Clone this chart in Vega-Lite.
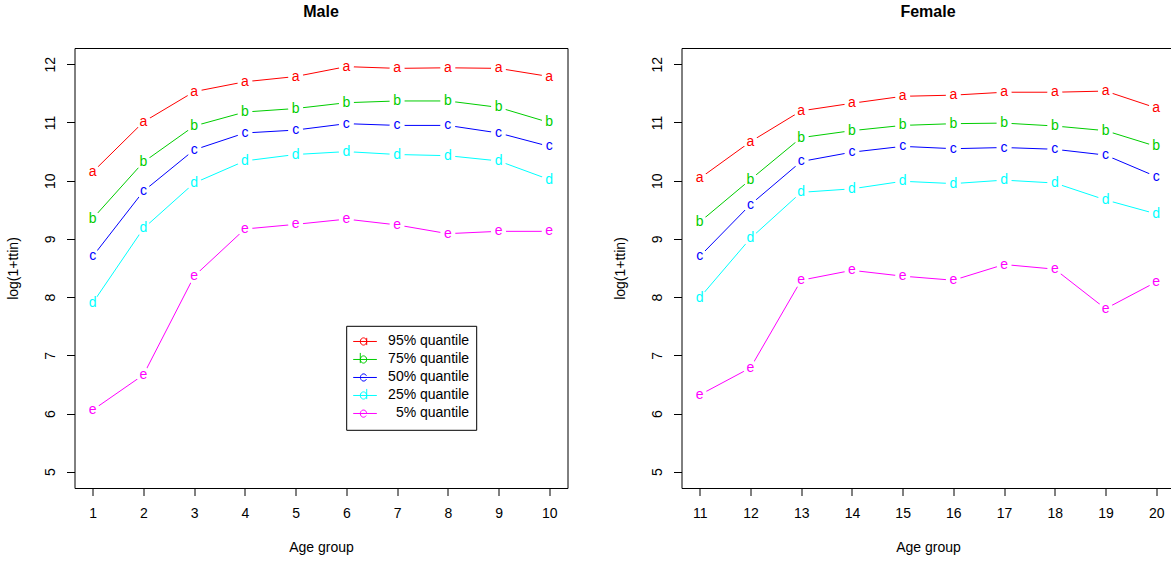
{
  "$schema": "https://vega.github.io/schema/vega-lite/v6.json",
  "autosize": {"type": "pad"},
  "padding": {"left": 5.5, "top": 3, "right": 0, "bottom": 0},
  "background": "white",
  "bounds": "flush",
  "spacing": 114,
  "config": {
    "font": "Liberation Sans",
    "view": {"stroke": "#000000", "strokeWidth": 1},
    "axis": {"grid": false, "domain": false, "tickColor": "#000000", "tickWidth": 1, "labelColor": "#000000", "titleColor": "#000000", "labelFontSize": 14, "titleFontSize": 14, "titleFontWeight": "normal", "labelFont": "Liberation Sans", "titleFont": "Liberation Sans", "labelFlush": false, "labelOverlap": false},
    "title": {"fontSize": 16, "fontWeight": "bold", "font": "Liberation Sans", "color": "#000000", "anchor": "middle", "frame": "group", "baseline": "alphabetic", "offset": 27.7}
  },
  "datasets": {
    "male": [
      {"age": 1, "q": "95% quantile", "l": "a", "v": 10.15},
      {"age": 2, "q": "95% quantile", "l": "a", "v": 11.01},
      {"age": 3, "q": "95% quantile", "l": "a", "v": 11.53},
      {"age": 4, "q": "95% quantile", "l": "a", "v": 11.70},
      {"age": 5, "q": "95% quantile", "l": "a", "v": 11.79},
      {"age": 6, "q": "95% quantile", "l": "a", "v": 11.96},
      {"age": 7, "q": "95% quantile", "l": "a", "v": 11.93},
      {"age": 8, "q": "95% quantile", "l": "a", "v": 11.94},
      {"age": 9, "q": "95% quantile", "l": "a", "v": 11.93},
      {"age": 10, "q": "95% quantile", "l": "a", "v": 11.79},
      {"age": 1, "q": "75% quantile", "l": "b", "v": 9.35},
      {"age": 2, "q": "75% quantile", "l": "b", "v": 10.32},
      {"age": 3, "q": "75% quantile", "l": "b", "v": 10.94},
      {"age": 4, "q": "75% quantile", "l": "b", "v": 11.18},
      {"age": 5, "q": "75% quantile", "l": "b", "v": 11.24},
      {"age": 6, "q": "75% quantile", "l": "b", "v": 11.34},
      {"age": 7, "q": "75% quantile", "l": "b", "v": 11.37},
      {"age": 8, "q": "75% quantile", "l": "b", "v": 11.37},
      {"age": 9, "q": "75% quantile", "l": "b", "v": 11.26},
      {"age": 10, "q": "75% quantile", "l": "b", "v": 11.00},
      {"age": 1, "q": "50% quantile", "l": "c", "v": 8.70},
      {"age": 2, "q": "50% quantile", "l": "c", "v": 9.82},
      {"age": 3, "q": "50% quantile", "l": "c", "v": 10.53},
      {"age": 4, "q": "50% quantile", "l": "c", "v": 10.82},
      {"age": 5, "q": "50% quantile", "l": "c", "v": 10.87},
      {"age": 6, "q": "50% quantile", "l": "c", "v": 10.98},
      {"age": 7, "q": "50% quantile", "l": "c", "v": 10.95},
      {"age": 8, "q": "50% quantile", "l": "c", "v": 10.95},
      {"age": 9, "q": "50% quantile", "l": "c", "v": 10.82},
      {"age": 10, "q": "50% quantile", "l": "c", "v": 10.59},
      {"age": 1, "q": "25% quantile", "l": "d", "v": 7.90},
      {"age": 2, "q": "25% quantile", "l": "d", "v": 9.18},
      {"age": 3, "q": "25% quantile", "l": "d", "v": 9.96},
      {"age": 4, "q": "25% quantile", "l": "d", "v": 10.34},
      {"age": 5, "q": "25% quantile", "l": "d", "v": 10.45},
      {"age": 6, "q": "25% quantile", "l": "d", "v": 10.50},
      {"age": 7, "q": "25% quantile", "l": "d", "v": 10.45},
      {"age": 8, "q": "25% quantile", "l": "d", "v": 10.43},
      {"age": 9, "q": "25% quantile", "l": "d", "v": 10.34},
      {"age": 10, "q": "25% quantile", "l": "d", "v": 10.02},
      {"age": 1, "q": "\u200c\u00a0\u00a05% quantile", "l": "e", "v": 6.06},
      {"age": 2, "q": "\u200c\u00a0\u00a05% quantile", "l": "e", "v": 6.665},
      {"age": 3, "q": "\u200c\u00a0\u00a05% quantile", "l": "e", "v": 8.36},
      {"age": 4, "q": "\u200c\u00a0\u00a05% quantile", "l": "e", "v": 9.17},
      {"age": 5, "q": "\u200c\u00a0\u00a05% quantile", "l": "e", "v": 9.25},
      {"age": 6, "q": "\u200c\u00a0\u00a05% quantile", "l": "e", "v": 9.34},
      {"age": 7, "q": "\u200c\u00a0\u00a05% quantile", "l": "e", "v": 9.24},
      {"age": 8, "q": "\u200c\u00a0\u00a05% quantile", "l": "e", "v": 9.09},
      {"age": 9, "q": "\u200c\u00a0\u00a05% quantile", "l": "e", "v": 9.13},
      {"age": 10, "q": "\u200c\u00a0\u00a05% quantile", "l": "e", "v": 9.13}
    ],
    "female": [
      {"age": 11, "q": "95% quantile", "l": "a", "v": 10.04},
      {"age": 12, "q": "95% quantile", "l": "a", "v": 10.67},
      {"age": 13, "q": "95% quantile", "l": "a", "v": 11.20},
      {"age": 14, "q": "95% quantile", "l": "a", "v": 11.33},
      {"age": 15, "q": "95% quantile", "l": "a", "v": 11.45},
      {"age": 16, "q": "95% quantile", "l": "a", "v": 11.47},
      {"age": 17, "q": "95% quantile", "l": "a", "v": 11.52},
      {"age": 18, "q": "95% quantile", "l": "a", "v": 11.52},
      {"age": 19, "q": "95% quantile", "l": "a", "v": 11.54},
      {"age": 20, "q": "95% quantile", "l": "a", "v": 11.25},
      {"age": 11, "q": "75% quantile", "l": "b", "v": 9.29},
      {"age": 12, "q": "75% quantile", "l": "b", "v": 10.02},
      {"age": 13, "q": "75% quantile", "l": "b", "v": 10.74},
      {"age": 14, "q": "75% quantile", "l": "b", "v": 10.86},
      {"age": 15, "q": "75% quantile", "l": "b", "v": 10.95},
      {"age": 16, "q": "75% quantile", "l": "b", "v": 10.98},
      {"age": 17, "q": "75% quantile", "l": "b", "v": 10.99},
      {"age": 18, "q": "75% quantile", "l": "b", "v": 10.94},
      {"age": 19, "q": "75% quantile", "l": "b", "v": 10.86},
      {"age": 20, "q": "75% quantile", "l": "b", "v": 10.59},
      {"age": 11, "q": "50% quantile", "l": "c", "v": 8.70},
      {"age": 12, "q": "50% quantile", "l": "c", "v": 9.59},
      {"age": 13, "q": "50% quantile", "l": "c", "v": 10.33},
      {"age": 14, "q": "50% quantile", "l": "c", "v": 10.49},
      {"age": 15, "q": "50% quantile", "l": "c", "v": 10.59},
      {"age": 16, "q": "50% quantile", "l": "c", "v": 10.55},
      {"age": 17, "q": "50% quantile", "l": "c", "v": 10.57},
      {"age": 18, "q": "50% quantile", "l": "c", "v": 10.54},
      {"age": 19, "q": "50% quantile", "l": "c", "v": 10.44},
      {"age": 20, "q": "50% quantile", "l": "c", "v": 10.07},
      {"age": 11, "q": "25% quantile", "l": "d", "v": 7.99},
      {"age": 12, "q": "25% quantile", "l": "d", "v": 9.01},
      {"age": 13, "q": "25% quantile", "l": "d", "v": 9.80},
      {"age": 14, "q": "25% quantile", "l": "d", "v": 9.86},
      {"age": 15, "q": "25% quantile", "l": "d", "v": 9.99},
      {"age": 16, "q": "25% quantile", "l": "d", "v": 9.95},
      {"age": 17, "q": "25% quantile", "l": "d", "v": 10.01},
      {"age": 18, "q": "25% quantile", "l": "d", "v": 9.96},
      {"age": 19, "q": "25% quantile", "l": "d", "v": 9.67},
      {"age": 20, "q": "25% quantile", "l": "d", "v": 9.43},
      {"age": 11, "q": "\u200c\u00a0\u00a05% quantile", "l": "e", "v": 6.32},
      {"age": 12, "q": "\u200c\u00a0\u00a05% quantile", "l": "e", "v": 6.785},
      {"age": 13, "q": "\u200c\u00a0\u00a05% quantile", "l": "e", "v": 8.29},
      {"age": 14, "q": "\u200c\u00a0\u00a05% quantile", "l": "e", "v": 8.46},
      {"age": 15, "q": "\u200c\u00a0\u00a05% quantile", "l": "e", "v": 8.36},
      {"age": 16, "q": "\u200c\u00a0\u00a05% quantile", "l": "e", "v": 8.29},
      {"age": 17, "q": "\u200c\u00a0\u00a05% quantile", "l": "e", "v": 8.56},
      {"age": 18, "q": "\u200c\u00a0\u00a05% quantile", "l": "e", "v": 8.48},
      {"age": 19, "q": "\u200c\u00a0\u00a05% quantile", "l": "e", "v": 7.80},
      {"age": 20, "q": "\u200c\u00a0\u00a05% quantile", "l": "e", "v": 8.26}
    ]
  },
  "hconcat": [
    {
      "title": "Male",
      "width": 493,
      "height": 440,
      "data": {"name": "male"},
      "encoding": {
        "x": {"field": "age", "type": "quantitative", "scale": {"domain": [0.64, 10.36], "nice": false, "zero": false},
          "axis": {"values": [1, 2, 3, 4, 5, 6, 7, 8, 9, 10], "title": "Age group", "tickSize": 7.5, "labelPadding": 10.5, "titlePadding": 20.5}},
        "y": {"field": "v", "type": "quantitative", "scale": {"domain": [4.72, 12.28], "nice": false, "zero": false},
          "axis": {"values": [5, 6, 7, 8, 9, 10, 11, 12], "title": "log(1+ttin)", "tickSize": 8, "labelAngle": 270, "labelAlign": "center", "labelBaseline": "alphabetic", "labelPadding": 12, "titlePadding": 23}}
      },
      "layer": [
        {
          "mark": {"type": "line", "strokeWidth": 1},
          "encoding": {
            "color": {"field": "q", "type": "nominal",
              "scale": {"domain": ["95% quantile", "75% quantile", "50% quantile", "25% quantile", "\u200c\u00a0\u00a05% quantile"], "range": ["#FF0000", "#00CD00", "#0000FF", "#00FFFF", "#FF00FF"]},
              "legend": {"title": null, "orient": "none", "legendX": 271.7, "legendY": 277.8, "strokeColor": "#000000", "padding": 7, "symbolOffset": -3.7, "symbolSize": 713, "symbolStrokeWidth": 1, "symbolOpacity": 1, "symbolFillColor": "transparent", "labelOffset": 10.6, "rowPadding": 0, "clipHeight": 17.35, "labelFontSize": 14, "labelFont": "Liberation Sans", "labelColor": "#000000", "fillColor": "white",
                "encode": {"symbols": {"update": {"fill": {"value": "transparent"}, "fillOpacity": {"value": 0}, "strokeWidth": {"value": 1}}}}}},
            "detail": {"field": "q"}
          }
        },
        {
          "mark": {"type": "point", "filled": true, "color": "white", "opacity": 1, "size": 230, "shape": "circle"}
        },
        {
          "mark": {"type": "text", "fontSize": 14, "font": "Liberation Sans", "baseline": "middle", "align": "center"},
          "encoding": {
            "text": {"field": "l"},
            "fill": {"field": "q", "type": "nominal",
              "scale": {"domain": ["95% quantile", "75% quantile", "50% quantile", "25% quantile", "\u200c\u00a0\u00a05% quantile"], "range": ["#FF0000", "#00CD00", "#0000FF", "#00FFFF", "#FF00FF"]},
              "legend": null}
          }
        },
        {
          "mark": {"type": "point", "opacity": 0, "strokeWidth": 1, "filled": false},
          "encoding": {
            "color": {"field": "q", "type": "nominal"},
            "shape": {"field": "q", "type": "nominal",
              "scale": {"domain": ["95% quantile", "75% quantile", "50% quantile", "25% quantile", "\u200c\u00a0\u00a05% quantile"],
                "range": [
                  "M-1,0H1M0.24,0A0.24,0.27 0 1 1 -0.24,0A0.24,0.27 0 1 1 0.24,0M0.24,-0.27V0.27",
                  "M-1,0H1M0.24,0A0.24,0.27 0 1 1 -0.24,0A0.24,0.27 0 1 1 0.24,0M-0.24,-0.49V0.27",
                  "M-1,0H1M0.22,-0.13A0.24,0.27 0 1 0 0.22,0.13",
                  "M-1,0H1M0.24,0A0.24,0.27 0 1 1 -0.24,0A0.24,0.27 0 1 1 0.24,0M0.24,-0.49V0.27",
                  "M-1,0H1M-0.24,0H0.24A0.24,0.27 0 1 0 0.2,0.16"
                ]},
              "legend": {"title": null}}
          }
        }
      ]
    },
    {
      "title": "Female",
      "width": 493,
      "height": 440,
      "data": {"name": "female"},
      "encoding": {
        "x": {"field": "age", "type": "quantitative", "scale": {"domain": [10.64, 20.36], "nice": false, "zero": false},
          "axis": {"values": [11, 12, 13, 14, 15, 16, 17, 18, 19, 20], "title": "Age group", "tickSize": 7.5, "labelPadding": 10.5, "titlePadding": 20.5}},
        "y": {"field": "v", "type": "quantitative", "scale": {"domain": [4.72, 12.28], "nice": false, "zero": false},
          "axis": {"values": [5, 6, 7, 8, 9, 10, 11, 12], "title": "log(1+ttin)", "tickSize": 8, "labelAngle": 270, "labelAlign": "center", "labelBaseline": "alphabetic", "labelPadding": 12, "titlePadding": 23}}
      },
      "layer": [
        {
          "mark": {"type": "line", "strokeWidth": 1},
          "encoding": {
            "color": {"field": "q", "type": "nominal"},
            "detail": {"field": "q"}
          }
        },
        {
          "mark": {"type": "point", "filled": true, "color": "white", "opacity": 1, "size": 230, "shape": "circle"}
        },
        {
          "mark": {"type": "text", "fontSize": 14, "font": "Liberation Sans", "baseline": "middle", "align": "center"},
          "encoding": {
            "text": {"field": "l"},
            "fill": {"field": "q", "type": "nominal", "legend": null}
          }
        }
      ]
    }
  ]
}
